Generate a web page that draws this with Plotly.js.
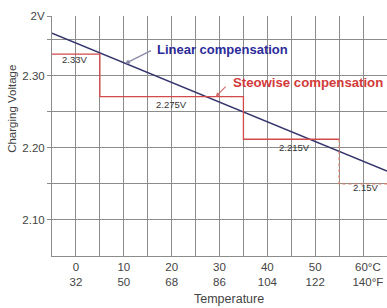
<!DOCTYPE html>
<html><head><meta charset="utf-8">
<script src="https://cdn.plot.ly/plotly-3.0.1.min.js"></script>
<style>html,body{margin:0;padding:0;background:#fff;}</style>
</head><body>
<div id="chart" style="width:387px;height:308px;"></div>
<script>
// Temperature axis (°C) and linear compensation
const linearTemp = [-5, 65];
const linearVolt = [2.359, 2.168];
// Stepwise compensation
const stepTemp = [-5, 5, 5, 35, 35, 55];
const stepVolt = [2.330, 2.330, 2.271, 2.271, 2.212, 2.212];
const dotTemp = [55, 55, 65];
const dotVolt = [2.212, 2.150, 2.150];
// Step labels
const stepLabelText = ['2.33V', '2.275V', '2.215V', '2.15V'];
const stepLabelX = [-0.2, 20, 45.6, 60.6];
const stepLabelY = [2.322, 2.260, 2.2007, 2.1455];
// Tick labels
const xTickVals = [-5, 0, 5, 10, 15, 20, 25, 30, 35, 40, 45, 50, 55, 60, 65];
const xTickText = ['', '0<br>32', '', '10<br>50', '', '20<br>68', '', '30<br>86', '', '40<br>104', '', '50<br>122', '', '&nbsp;&nbsp;&nbsp;60°C<br>&nbsp;&nbsp;&nbsp;140°F', ''];
const yTickVals = [2.10, 2.15, 2.20, 2.25, 2.30, 2.35, 2.383];
const yTickText = ['2.10', '', '2.20', '', '2.30', '', '2V'];

const font = 'Liberation Sans, Arial, sans-serif';
const traces = [
  {x: linearTemp, y: linearVolt, mode: 'lines', line: {color: '#35356e', width: 1.5}, hoverinfo: 'skip'},
  {x: stepTemp, y: stepVolt, mode: 'lines', line: {color: '#d24a4a', width: 1.3}, hoverinfo: 'skip'},
  {x: dotTemp, y: dotVolt, mode: 'lines', line: {color: '#d8806a', width: 1.3, dash: 'dot'}, hoverinfo: 'skip'}
];
const annotations = stepLabelText.map((t, i) => ({
  x: stepLabelX[i], y: stepLabelY[i], xref: 'x', yref: 'y', text: t, showarrow: false,
  font: {family: font, size: 9.5, color: '#333'}
}));
annotations.push({
  x: 10.9, y: 2.319, xref: 'x', yref: 'y', ax: 16.0, ay: 2.336, axref: 'x', ayref: 'y',
  text: '', showarrow: true, arrowhead: 6, arrowsize: 0.8, arrowwidth: 1.2, arrowcolor: '#8a8aa8'
});
annotations.push({
  x: 16.5, y: 2.336, xref: 'x', yref: 'y', text: '<b>Linear compensation</b>', showarrow: false,
  xanchor: 'left', font: {family: font, size: 13, color: '#2b2b9a'}
});
annotations.push({
  x: 29.2, y: 2.271, xref: 'x', yref: 'y', ax: 31.6, ay: 2.287, axref: 'x', ayref: 'y',
  text: '', showarrow: true, arrowhead: 2, arrowsize: 0.7, arrowwidth: 1.2, arrowcolor: '#d07070'
});
annotations.push({
  x: 64.6, y: 2.291, xref: 'x', yref: 'y', text: '<b>Steowise compensation</b>', showarrow: false,
  xanchor: 'right', font: {family: font, size: 13.2, color: '#d23a3a'}
});
annotations.push({
  x: -0.142, y: 0.615, xref: 'paper', yref: 'paper', text: 'Charging Voltage', showarrow: false, textangle: -90,
  font: {family: font, size: 11.5, color: '#444'}
});
annotations.push({
  x: 0.528, y: -0.181, xref: 'paper', yref: 'paper', text: 'Temperature', showarrow: false,
  yanchor: 'middle', font: {family: font, size: 12.5, color: '#444'}
});

const layout = {
  width: 387, height: 308,
  margin: {l: 52, r: 0, t: 16, b: 52},
  paper_bgcolor: '#fff', plot_bgcolor: '#fff',
  showlegend: false,
  font: {family: font, color: '#444'},
  xaxis: {
    range: [-5, 65], tickmode: 'array', tickvals: xTickVals, ticktext: xTickText,
    showgrid: true, gridcolor: '#8c8c8c', gridwidth: 1, zeroline: false,
    showline: true, linecolor: '#8c8c8c', linewidth: 1, ticks: '',
    tickfont: {family: font, size: 11.5, color: '#444'}
  },
  yaxis: {
    range: [2.05, 2.383], tickmode: 'array', tickvals: yTickVals, ticktext: yTickText,
    showgrid: true, gridcolor: '#8c8c8c', gridwidth: 1, zeroline: false,
    showline: true, linecolor: '#8c8c8c', linewidth: 1, ticks: 'outside', ticklen: 4, tickcolor: '#8c8c8c',
    tickfont: {family: font, size: 11.5, color: '#444'}
  },
  annotations: annotations
};
Plotly.newPlot('chart', traces, layout, {staticPlot: true, displayModeBar: false});
</script>
</body></html>
